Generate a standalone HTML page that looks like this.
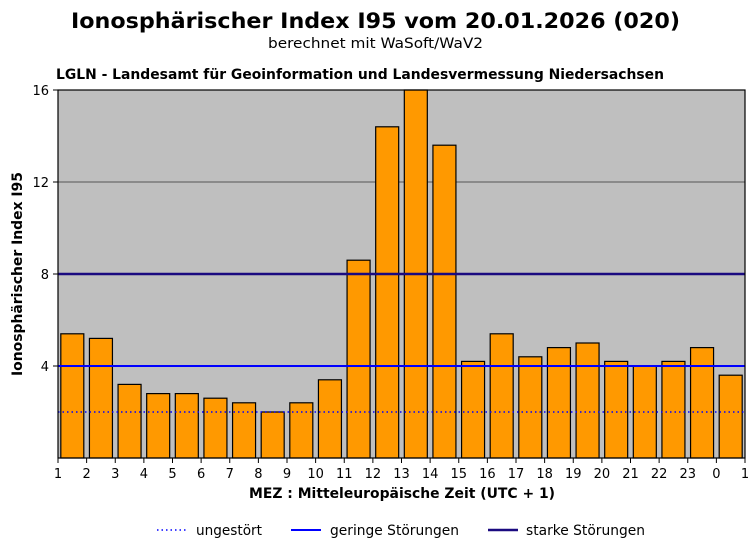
<!DOCTYPE html>
<html><head><meta charset="utf-8"><style>body{margin:0;background:#fff}svg{display:block;font-family:"DejaVu Sans","Liberation Sans",sans-serif}</style></head><body>
<svg width="756" height="546" viewBox="0 0 756 546">
<text x="71" y="28" font-size="21" font-weight="bold" textLength="609" lengthAdjust="spacingAndGlyphs">Ionosphärischer Index I95 vom 20.01.2026 (020)</text>
<text x="268" y="48" font-size="14.5" textLength="215" lengthAdjust="spacingAndGlyphs">berechnet mit WaSoft/WaV2</text>
<text x="56" y="79" font-size="13.8" font-weight="bold" textLength="608" lengthAdjust="spacingAndGlyphs">LGLN - Landesamt für Geoinformation und Landesvermessung Niedersachsen</text>
<rect x="58" y="90" width="687" height="368" fill="#bfbfbf"/>
<line x1="58" y1="182" x2="745" y2="182" stroke="#333" stroke-width="0.8"/>
<g id="bars" fill="#ff9900" stroke="#000" stroke-width="1.2"></g>
<line x1="58" y1="412" x2="745" y2="412" stroke="#0000ff" stroke-width="1.5" stroke-dasharray="1.5,3"/>
<line x1="58" y1="366" x2="745" y2="366" stroke="#0000ff" stroke-width="2"/>
<line x1="58" y1="274" x2="745" y2="274" stroke="#1a0a80" stroke-width="2.5"/>
<rect x="58" y="90" width="687" height="368" fill="none" stroke="#000" stroke-width="1.2"/>
<g id="ticks" font-size="13"></g>
<g font-size="13" text-anchor="end">
<text x="49" y="95">16</text><text x="49" y="187">12</text><text x="49" y="279">8</text><text x="49" y="371">4</text>
</g>
<g stroke="#000"><line x1="53" y1="90" x2="58" y2="90"/><line x1="53" y1="182" x2="58" y2="182"/><line x1="53" y1="274" x2="58" y2="274"/><line x1="53" y1="366" x2="58" y2="366"/></g>
<text transform="translate(22,274) rotate(-90)" text-anchor="middle" font-size="13.8" font-weight="bold" textLength="204" lengthAdjust="spacingAndGlyphs">Ionosphärischer Index I95</text>
<text x="402" y="498" text-anchor="middle" font-size="13.8" font-weight="bold" textLength="306" lengthAdjust="spacingAndGlyphs">MEZ : Mitteleuropäische Zeit (UTC + 1)</text>
<line x1="157" y1="530" x2="187" y2="530" stroke="#0000ff" stroke-width="1.5" stroke-dasharray="1.5,3"/>
<text x="196" y="535" font-size="13.8" textLength="66" lengthAdjust="spacingAndGlyphs">ungestört</text>
<line x1="291" y1="530" x2="321" y2="530" stroke="#0000ff" stroke-width="2"/>
<text x="330" y="535" font-size="13.8" textLength="129" lengthAdjust="spacingAndGlyphs">geringe Störungen</text>
<line x1="488" y1="530" x2="518" y2="530" stroke="#1a0a80" stroke-width="2.5"/>
<text x="526" y="535" font-size="13.8" textLength="119" lengthAdjust="spacingAndGlyphs">starke Störungen</text>
</svg>
<script>
var v=[5.4,5.2,3.2,2.8,2.8,2.6,2.4,2.0,2.4,3.4,8.6,14.4,16,13.6,4.2,5.4,4.4,4.8,5.0,4.2,4.0,4.2,4.8,3.6];
var ns="http://www.w3.org/2000/svg",b=document.getElementById("bars"),t=document.getElementById("ticks");
var s=687/24;
v.forEach(function(d,i){var r=document.createElementNS(ns,"rect");var cx=58+s*(i+0.5);r.setAttribute("x",cx-11.5);r.setAttribute("width",23);r.setAttribute("y",458-d*23);r.setAttribute("height",d*23);b.appendChild(r);});
for(var i=0;i<=24;i++){var x=58+s*i;var l=document.createElementNS(ns,"line");l.setAttribute("x1",x);l.setAttribute("x2",x);l.setAttribute("y1",458);l.setAttribute("y2",463);l.setAttribute("stroke","#000");t.appendChild(l);
var tx=document.createElementNS(ns,"text");tx.setAttribute("x",x);tx.setAttribute("y",478);tx.setAttribute("text-anchor","middle");var h=(i%24)+1;tx.textContent=(h==24)?"0":String(h);t.appendChild(tx);}
</script>
</body></html>
